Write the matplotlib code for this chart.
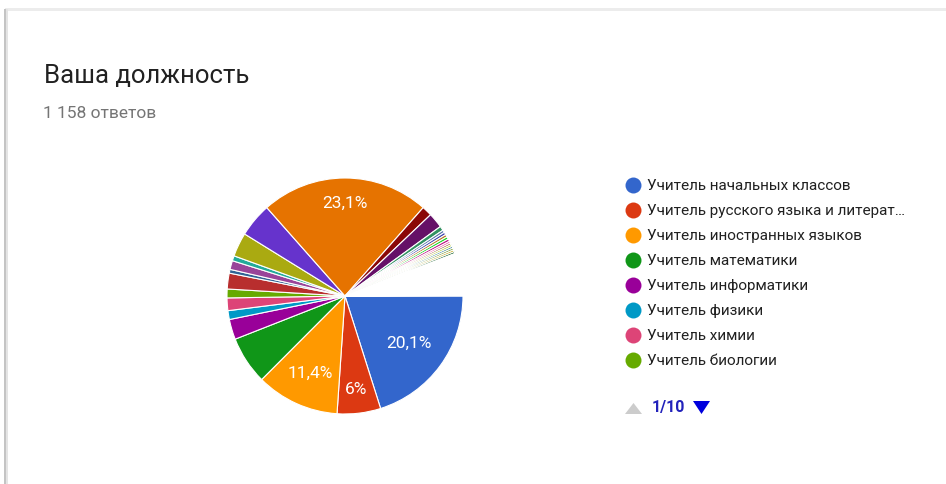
import math
import matplotlib
matplotlib.use("Agg")
from matplotlib import pyplot as plt
from matplotlib.patches import Rectangle, Polygon

plt.rcParams['font.family'] = ['Roboto', 'DejaVu Sans']

title = "Ваша должность"
subtitle = "1 158 ответов"

# legend page 1 of 10
legend_labels = ["Учитель начальных классов",
                 "Учитель русского языка и литерат…",
                 "Учитель иностранных языков",
                 "Учитель математики",
                 "Учитель информатики",
                 "Учитель физики",
                 "Учитель химии",
                 "Учитель биологии"]

# answers per category (1158 total), in slice order
counts = [233, 69, 132, 76, 32, 14, 20, 14, 25, 6, 14, 8, 38, 54, 267,
          16, 24, 7, 4, 4, 4, 4, 4, 3, 3, 3, 3, 3, 3, 3] + [2] * 23 + [1] * 22

palette = ["#3366cc", "#dc3912", "#ff9900", "#109618", "#990099", "#0099c6",
           "#dd4477", "#66aa00", "#b82e2e", "#316395", "#994499", "#22aa99",
           "#aaaa11", "#6633cc", "#e67300", "#8b0707", "#651067", "#329262",
           "#5574a6", "#3b3eac", "#b77322", "#16d620", "#b91383", "#f4359e",
           "#9c5935", "#a9c413", "#2a778d", "#668d1c", "#bea413", "#0c5922"]
# slices of 1-2 answers are too thin to show any colour
colors = palette + ["#ffffff"] * (len(counts) - len(palette))

shown_pct = [0, 1, 2, 14]
pct_dist = [0.67, 0.79, 0.71, 0.79]

W, H = 946, 485
fig = plt.figure(figsize=(W / 100, H / 100), dpi=100)

# overlay in pixel coordinates
bg = fig.add_axes([0, 0, 1, 1])
bg.set_xlim(0, W)
bg.set_ylim(H, 0)
bg.axis("off")

# card edges
bg.add_patch(Rectangle((5, 9), W - 5, 3, color="#ececec", lw=0))
bg.add_patch(Rectangle((4, 10), 2, H - 10, color="#c4c4c4", lw=0))
bg.add_patch(Rectangle((6, 10), 2, H - 10, color="#e4e4e4", lw=0))

bg.text(44, 83, title, fontsize=18.5, color="#212121", va="baseline", ha="left")
bg.text(43, 118, subtitle, fontsize=12.5, color="#757575", va="baseline", ha="left")

# pie
cx, cy, r = 345, 297, 118
ax = fig.add_axes([(cx - r) / W, (H - cy - r) / H, 2 * r / W, 2 * r / H])
wedges, _ = ax.pie(counts, colors=colors, startangle=0, counterclock=False,
                   radius=1, wedgeprops=dict(edgecolor="white", linewidth=0.8))
ax.set_xlim(-1, 1)
ax.set_ylim(-1, 1)
ax.axis("off")

total = sum(counts)
for i, d in zip(shown_pct, pct_dist):
    w = wedges[i]
    a = math.radians((w.theta1 + w.theta2) / 2)
    p = round(counts[i] / total * 100, 1)
    txt = ("%g" % p).replace(".", ",") + "%"
    ax.text(d * math.cos(a), d * math.sin(a), txt, color="white",
            fontsize=12.5, ha="center", va="center")

# legend
for k, name in enumerate(legend_labels):
    y = 186 + 25 * k
    bg.plot(632.5, y, "o", ms=11.5, color=colors[k], mec="none")
    bg.text(647, y, name, fontsize=11, color="#212121", va="center", ha="left")

# pager
bg.add_patch(Polygon([(625, 415), (642, 415), (633.5, 404)], color="#cccccc", lw=0))
bg.text(652, 408, "1/10", fontsize=11.5, fontweight="bold", color="#2222bb",
        va="center", ha="left")
bg.add_patch(Polygon([(693, 402), (710, 402), (701.5, 415)], color="#0000dd", lw=0))

fig.savefig("out.png", dpi=100, facecolor="white")
